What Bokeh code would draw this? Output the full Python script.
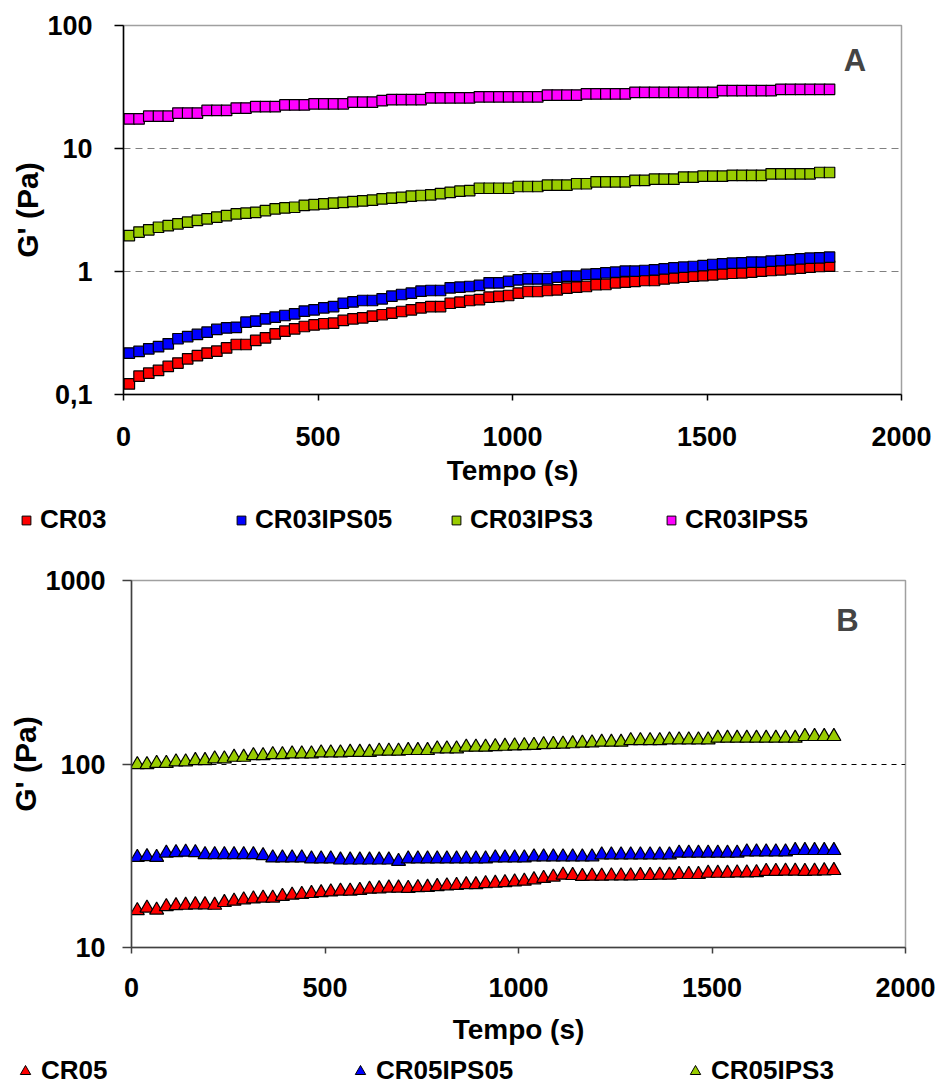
from bokeh.plotting import figure
from bokeh.models import (Range1d, FixedTicker, CustomJSTickFormatter, Legend,
                          LegendItem, Label)
from bokeh.layouts import column
from bokeh.embed import file_html
from bokeh.resources import INLINE

# ---------------- data ----------------
time_s = [15, 40, 65, 90, 115, 140, 165, 190, 215, 240, 265, 290, 315, 340, 365,
          390, 415, 440, 465, 490, 515, 540, 565, 590, 615, 640, 665, 690, 715,
          740, 765, 790, 815, 840, 865, 890, 915, 940, 965, 990, 1015, 1040, 1065,
          1090, 1115, 1140, 1165, 1190, 1215, 1240, 1265, 1290, 1315, 1340, 1365,
          1390, 1415, 1440, 1465, 1490, 1515, 1540, 1565, 1590, 1615, 1640, 1665,
          1690, 1715, 1740, 1765, 1790, 1815]

cr03 = [0.122, 0.141, 0.149, 0.157, 0.169, 0.180, 0.195, 0.207, 0.217, 0.225,
        0.239, 0.255, 0.255, 0.275, 0.289, 0.311, 0.327, 0.342, 0.357, 0.368,
        0.376, 0.380, 0.400, 0.412, 0.420, 0.433, 0.445, 0.459, 0.473, 0.488,
        0.507, 0.519, 0.519, 0.552, 0.563, 0.581, 0.591, 0.618, 0.627, 0.638,
        0.667, 0.688, 0.688, 0.701, 0.710, 0.732, 0.746, 0.755, 0.780, 0.784,
        0.809, 0.819, 0.830, 0.845, 0.845, 0.871, 0.889, 0.899, 0.916, 0.927,
        0.939, 0.957, 0.968, 0.975, 0.988, 1.007, 1.019, 1.032, 1.051, 1.064,
        1.084, 1.098, 1.105]

cr03ips05 = [0.217, 0.224, 0.235, 0.245, 0.258, 0.284, 0.296, 0.308, 0.321, 0.338,
             0.348, 0.352, 0.387, 0.395, 0.412, 0.425, 0.439, 0.453, 0.476, 0.488,
             0.507, 0.519, 0.552, 0.566, 0.581, 0.581, 0.600, 0.630, 0.650, 0.667,
             0.692, 0.701, 0.701, 0.737, 0.746, 0.755, 0.770, 0.809, 0.809, 0.830,
             0.856, 0.871, 0.871, 0.871, 0.899, 0.916, 0.916, 0.946, 0.957, 0.975,
             0.988, 1.007, 1.007, 1.019, 1.032, 1.051, 1.072, 1.084, 1.098, 1.118,
             1.140, 1.154, 1.169, 1.177, 1.192, 1.192, 1.214, 1.228, 1.244, 1.268,
             1.283, 1.291, 1.307]

cr03ips3 = [1.96, 2.09, 2.18, 2.29, 2.36, 2.44, 2.52, 2.60, 2.68, 2.77,
            2.85, 2.94, 2.98, 3.03, 3.13, 3.23, 3.29, 3.33, 3.45, 3.50,
            3.55, 3.60, 3.65, 3.70, 3.75, 3.80, 3.90, 3.95, 4.00, 4.10,
            4.15, 4.20, 4.30, 4.40, 4.50, 4.55, 4.75, 4.75, 4.75, 4.75,
            4.91, 4.91, 4.91, 5.03, 5.03, 5.03, 5.17, 5.17, 5.36, 5.36,
            5.36, 5.36, 5.50, 5.50, 5.63, 5.63, 5.63, 5.85, 5.85, 5.96,
            5.96, 5.96, 6.05, 6.05, 6.05, 6.05, 6.22, 6.22, 6.22, 6.22,
            6.22, 6.38, 6.38]

cr03ips5 = [17.4, 17.4, 18.3, 18.3, 18.3, 19.4, 19.4, 19.4, 20.4, 20.4,
            20.4, 21.3, 21.3, 21.9, 21.9, 21.9, 22.6, 22.6, 22.6, 23.1,
            23.1, 23.1, 23.1, 23.8, 23.8, 23.8, 24.5, 25.0, 25.0, 25.0,
            25.0, 25.8, 25.8, 25.8, 25.8, 25.8, 26.3, 26.3, 26.3, 26.3,
            26.3, 26.3, 26.3, 27.2, 27.2, 27.2, 27.2, 27.8, 27.8, 27.8,
            27.8, 27.8, 28.6, 28.6, 28.6, 28.6, 28.6, 28.6, 28.6, 28.6,
            28.6, 29.5, 29.5, 29.5, 29.5, 29.5, 29.5, 30.3, 30.3, 30.3,
            30.3, 30.3, 30.3]

cr05 = [15.9, 16.4, 16.0, 16.7, 16.9, 17.0, 17.1, 17.1, 17.0, 17.6,
        17.9, 18.2, 18.4, 18.6, 18.6, 19.0, 19.3, 19.5, 19.7, 19.9,
        20.1, 20.3, 20.3, 20.5, 20.8, 20.9, 21.1, 21.1, 21.0, 21.2,
        21.3, 21.5, 21.7, 21.8, 22.0, 22.0, 22.3, 22.4, 22.6, 22.8,
        23.0, 23.4, 23.8, 24.2, 24.8, 24.7, 24.4, 24.5, 24.5, 24.6,
        24.6, 24.6, 24.7, 24.7, 24.8, 24.8, 25.0, 25.0, 25.0, 25.4,
        25.4, 25.4, 25.5, 25.5, 25.6, 26.0, 26.0, 26.1, 26.1, 26.0,
        26.1, 26.2, 26.3]

cr05ips05 = [31.0, 31.3, 31.0, 32.7, 32.9, 33.1, 32.9, 32.1, 32.1, 32.1,
             32.1, 32.1, 32.1, 31.7, 30.8, 30.8, 30.8, 30.8, 30.4, 30.4,
             30.4, 30.0, 30.0, 30.0, 30.0, 30.0, 30.0, 29.5, 30.4, 30.4,
             30.4, 30.4, 30.4, 30.4, 30.4, 30.4, 30.4, 30.8, 30.8, 30.8,
             30.8, 31.2, 31.2, 31.2, 31.2, 31.2, 31.2, 31.2, 32.0, 32.0,
             32.0, 32.0, 32.0, 32.0, 32.0, 32.0, 32.7, 32.7, 32.7, 32.7,
             32.7, 32.7, 32.7, 33.2, 33.2, 33.2, 33.2, 33.2, 33.8, 33.8,
             33.8, 33.8, 33.8]

cr05ips3 = [99.3, 99.3, 100.9, 100.9, 102.8, 102.8, 104.5, 104.5, 106.7, 106.7,
            108.9, 108.9, 111.2, 111.2, 112.6, 112.6, 113.6, 113.6, 113.6, 115.1,
            115.1, 115.1, 115.9, 115.9, 115.9, 117.5, 117.5, 117.5, 118.5, 118.5,
            118.5, 121.0, 121.0, 121.0, 123.6, 123.6, 123.6, 124.5, 125.0, 125.5,
            126.0, 126.5, 127.5, 128.0, 128.5, 129.0, 130.0, 130.5, 131.5, 131.5,
            131.5, 134.2, 134.2, 134.2, 134.2, 135.4, 135.4, 135.4, 135.4, 135.4,
            138.3, 138.3, 138.3, 138.3, 138.3, 138.3, 138.3, 138.3, 138.3, 141.3,
            141.3, 141.3, 141.3]

labels_a = ["CR03", "CR03IPS05", "CR03IPS3", "CR03IPS5"]
labels_b = ["CR05", "CR05IPS05", "CR05IPS3"]
colors_a = ["#FF0000", "#0000FF", "#99CC00", "#FF00FF"]
colors_b = ["#FF0000", "#0000FF", "#99CC00"]
x_ticks = [0, 500, 1000, 1500, 2000]
y_ticks_a = [0.1, 1, 10, 100]
y_ticks_b = [10, 100, 1000]

FONT = "Liberation Sans"
TICK_FMT = CustomJSTickFormatter(code="return String(tick).replace('.', ',');")


def style(p, yticks, grid_vals, grid_color, grid_dash, axis_color,
          xt_standoff, xl_standoff, yt_standoff, yl_standoff):
    p.background_fill_color = "white"
    p.border_fill_color = "white"
    p.outline_line_color = "#A0A0A0"
    p.outline_line_width = 1.5
    p.xgrid.grid_line_color = None
    p.ygrid.ticker = FixedTicker(ticks=grid_vals)
    p.ygrid.grid_line_color = grid_color
    p.ygrid.grid_line_dash = grid_dash
    p.ygrid.grid_line_width = 1.2

    xa = p.xaxis[0]
    xa.ticker = FixedTicker(ticks=x_ticks)
    xa.axis_label = "Tempo (s)"
    ya = p.yaxis[0]
    ya.ticker = FixedTicker(ticks=yticks)
    ya.formatter = TICK_FMT
    ya.axis_label = "G' (Pa)"
    for ax in (xa, ya):
        ax.axis_line_color = axis_color
        ax.axis_line_width = 1.5
        ax.major_tick_line_color = axis_color
        ax.major_tick_line_width = 1.5
        ax.major_tick_in = 0
        ax.minor_tick_line_color = None
        ax.major_label_text_font = FONT
        ax.major_label_text_font_style = "bold"
        ax.major_label_text_font_size = "27px"
        ax.major_label_text_color = "black"
        ax.axis_label_text_font = FONT
        ax.axis_label_text_font_style = "bold"
        ax.axis_label_text_color = "black"
    xa.major_tick_out = 6
    xa.major_label_standoff = xt_standoff
    xa.axis_label_text_font_size = "28px"
    xa.axis_label_standoff = xl_standoff
    ya.major_tick_out = 9
    ya.major_label_standoff = yt_standoff
    ya.axis_label_text_font_size = "30px"
    ya.axis_label_standoff = yl_standoff


def legend_row(labels, colors, series, marker, height, x, y, glyph,
               label_width, spacing):
    # legend-only strip: the series are drawn outside its visible range,
    # only their legend swatches show
    q = figure(width=937, height=height, x_range=Range1d(-2, -1),
               y_range=Range1d(-2, -1), x_axis_location=None,
               y_axis_location=None, output_backend="svg",
               toolbar_location=None, frame_align=False,
               min_border=0, outline_line_color=None)
    q.grid.grid_line_color = None
    q.background_fill_color = "white"
    q.border_fill_color = "white"
    items = []
    for lab, col, vals in zip(labels, colors, series):
        r = q.scatter(time_s, vals, marker=marker, fill_color=col,
                      line_color="black", line_width=1)
        items.append(LegendItem(label=lab, renderers=[r]))
    leg = Legend(items=items, orientation="horizontal", location=(x, y),
                 label_text_font=FONT, label_text_font_style="bold",
                 label_text_font_size="26px", label_text_color="black",
                 glyph_width=glyph, glyph_height=glyph, label_standoff=3,
                 label_width=label_width, spacing=spacing, padding=0, margin=0,
                 border_line_color=None, background_fill_alpha=0)
    q.add_layout(leg)
    return q


# ---------------- panel A ----------------
p1 = figure(width=937, height=500, x_range=Range1d(0, 2000),
            y_range=Range1d(0.1, 100), y_axis_type="log",
            output_backend="svg", toolbar_location=None, frame_align=False,
            min_border_left=123, min_border_right=36,
            min_border_top=25, min_border_bottom=106)
style(p1, y_ticks_a, [1, 10], "#808080", "7 5", "black", 26, 6, 22, 0)

series_a = [cr03, cr03ips05, cr03ips3, cr03ips5]
for col, vals in zip(colors_a, series_a):
    p1.scatter(time_s, vals, marker="square", size=10.5, fill_color=col,
               line_color="black", line_width=1.2)
p1.add_layout(Label(x=1880, y=52, text="A", text_font=FONT,
                    text_font_style="bold", text_font_size="31px",
                    text_align="center", text_baseline="middle"))

leg_a = legend_row(labels_a, colors_a, series_a, "square", 48, 15, 13, 22,
                   150, 40)

# ---------------- panel B ----------------
p2 = figure(width=937, height=506, x_range=Range1d(0, 2000),
            y_range=Range1d(10, 1000), y_axis_type="log",
            output_backend="svg", toolbar_location=None, frame_align=False,
            min_border_left=131, min_border_right=32,
            min_border_top=32, min_border_bottom=107)
style(p2, y_ticks_b, [100], "black", "5 5", "#404040", 24, 14, 17, 0)

series_b = [cr05, cr05ips05, cr05ips3]
for col, vals in zip(colors_b, series_b):
    p2.scatter(time_s, vals, marker="triangle", size=14, fill_color=col,
               line_color="black", line_width=1.2)
p2.add_layout(Label(x=1850, y=605, text="B", text_font=FONT,
                    text_font_style="bold", text_font_size="31px",
                    text_align="center", text_baseline="middle"))

leg_b = legend_row(labels_b, colors_b, series_b, "triangle", 32, 12, 0, 26,
                   256, 50)

layout = column(p1, leg_a, p2, leg_b, spacing=0)
open("out.html", "w").write(file_html(layout, INLINE))
